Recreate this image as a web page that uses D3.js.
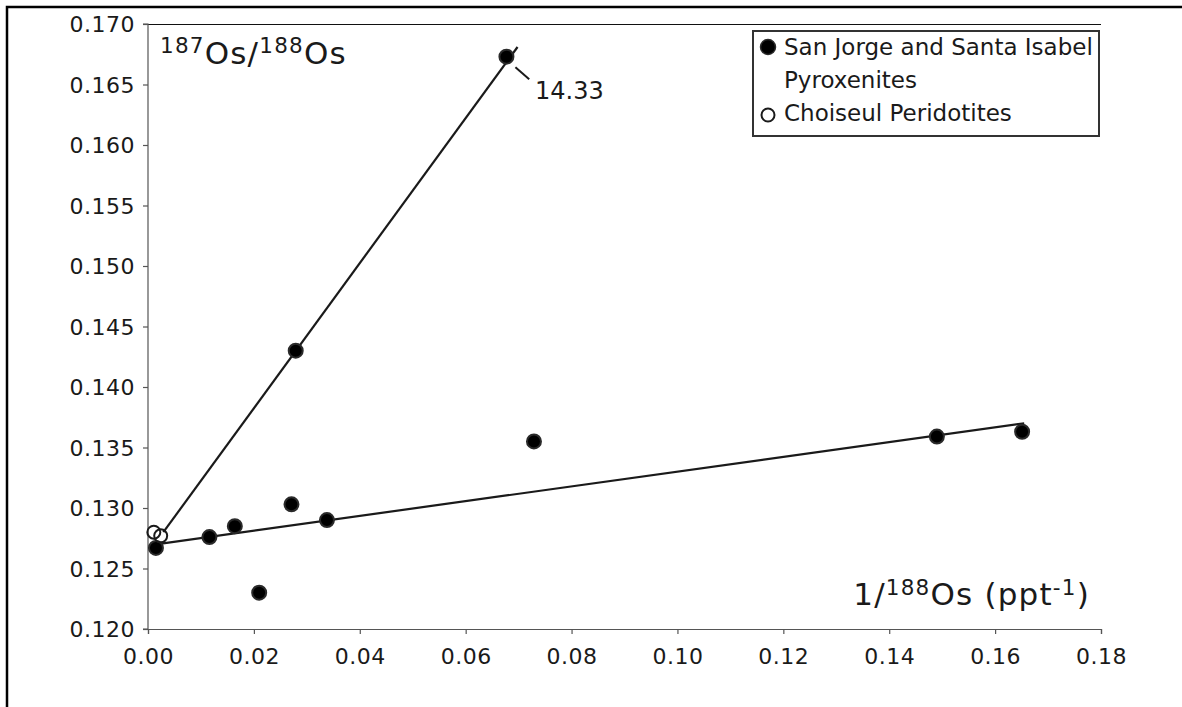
<!DOCTYPE html>
<html>
<head>
<meta charset="utf-8">
<script src="https://cdn.jsdelivr.net/npm/d3@7"></script>
<style>
  html, body { margin: 0; padding: 0; background: #fff; }
  svg { display: block; }
  text { font-family: "DejaVu Sans", sans-serif; fill: #1a1a1a; }
</style>
</head>
<body>
<script>
// ---- data ----
const pyroxX = [0.0015, 0.0116, 0.0164, 0.0210, 0.0271, 0.0279, 0.0338, 0.0677, 0.0729, 0.1490, 0.1651];
const pyroxY = [0.1267, 0.1276, 0.1285, 0.1230, 0.1303, 0.1430, 0.1290, 0.1673, 0.1355, 0.1359, 0.1363];
const periX = [0.0011, 0.0024];
const periY = [0.1280, 0.1277];
const lowLineX = [0.0015, 0.1655];
const lowLineY = [0.1270, 0.1370];
const steepLineX = [0.0029, 0.0698];
const steepLineY = [0.1280, 0.1681];
const xTicks = [0, 0.02, 0.04, 0.06, 0.08, 0.10, 0.12, 0.14, 0.16, 0.18];
const yTicks = [0.120, 0.125, 0.130, 0.135, 0.140, 0.145, 0.150, 0.155, 0.160, 0.165, 0.170];
const legendLabels = [["San Jorge and Santa Isabel", "Pyroxenites"], ["Choiseul Peridotites"]];
const ageLabel = "14.33";
const ageLeader = [[0.0694, 0.16642], [0.0720, 0.16543]];
const ageLabelPos = [0.0731, 0.1638];

// ---- layout ----
const W = 1182, H = 707;
const mLeft = 148, mRight = 1101, mTop = 24, mBottom = 629;

const svg = d3.select("body").append("svg").attr("width", W).attr("height", H);

const x = d3.scaleLinear().domain([0, 0.18]).range([mLeft, mRight]);
const y = d3.scaleLinear().domain([0.120, 0.170]).range([mBottom, mTop]);

// outer border (top and left only)
svg.append("path")
  .attr("d", `M7,${H} L7,7 L${W},7`)
  .attr("fill", "none").attr("stroke", "#000").attr("stroke-width", 2.5);

// top frame line of the plot
svg.append("line")
  .attr("x1", mLeft).attr("x2", mRight).attr("y1", mTop + 0.5).attr("y2", mTop + 0.5)
  .attr("stroke", "#111").attr("stroke-width", 1);

// axes
const yAxis = d3.axisLeft(y).tickValues(yTicks).tickFormat(d3.format(".3f")).tickSize(5).tickPadding(8);
const xAxis = d3.axisBottom(x).tickValues(xTicks).tickFormat(d3.format(".2f")).tickSize(5).tickPadding(14);

const gy = svg.append("g").attr("transform", `translate(${mLeft},0)`).call(yAxis);
const gx = svg.append("g").attr("transform", `translate(0,${mBottom})`).call(xAxis);

[gy, gx].forEach(g => {
  g.selectAll(".domain").attr("stroke", "#555").attr("stroke-width", 1.2);
  g.selectAll(".tick line").attr("stroke", "#555").attr("stroke-width", 1.2);
  g.selectAll(".tick text")
    .attr("font-family", "DejaVu Sans")
    .attr("font-size", 22)
    .attr("letter-spacing", 0.5)
    .attr("fill", "#1a1a1a");
});
gy.select(".domain").attr("d", `M-5,${y(0.170)}H0V${y(0.120)}H-5`);
gx.selectAll(".tick text").attr("dy", "0.71em");
gy.selectAll(".tick text").attr("dy", "0.36em");

// regression lines
const lineGen = d3.line().x(d => x(d[0])).y(d => y(d[1]));
svg.append("path")
  .attr("d", lineGen(d3.zip(lowLineX, lowLineY)))
  .attr("fill", "none").attr("stroke", "#1a1a1a").attr("stroke-width", 2.2);
svg.append("path")
  .attr("d", lineGen(d3.zip(steepLineX, steepLineY)))
  .attr("fill", "none").attr("stroke", "#1a1a1a").attr("stroke-width", 2.2);

// points
svg.append("g").selectAll("circle").data(d3.zip(pyroxX, pyroxY)).join("circle")
  .attr("cx", d => x(d[0])).attr("cy", d => y(d[1])).attr("r", 7)
  .attr("fill", "#000").attr("stroke", "#2a2a2a").attr("stroke-width", 2);

svg.append("g").selectAll("circle").data(d3.zip(periX, periY)).join("circle")
  .attr("cx", d => x(d[0])).attr("cy", d => y(d[1])).attr("r", 6.5)
  .attr("fill", "none").attr("stroke", "#1a1a1a").attr("stroke-width", 2);

// age annotation
svg.append("path")
  .attr("d", lineGen(ageLeader))
  .attr("fill", "none").attr("stroke", "#1a1a1a").attr("stroke-width", 2);
svg.append("text")
  .attr("x", x(ageLabelPos[0])).attr("y", y(ageLabelPos[1]))
  .attr("font-size", 24)
  .text(ageLabel);

// y-axis title: 187Os/188Os
const yt = svg.append("text").attr("x", 160).attr("y", 64).attr("letter-spacing", 1.2);
yt.append("tspan").attr("font-size", 21.5).attr("dy", -11).text("187");
yt.append("tspan").attr("font-size", 31).attr("dy", 11).text("Os/");
yt.append("tspan").attr("font-size", 21.5).attr("dy", -11).text("188");
yt.append("tspan").attr("font-size", 31).attr("dy", 11).text("Os");

// x-axis title: 1/188Os (ppt-1)
const xt = svg.append("text").attr("x", 1090).attr("y", 605).attr("text-anchor", "end").attr("letter-spacing", 1.2);
xt.append("tspan").attr("font-size", 31).text("1/");
xt.append("tspan").attr("font-size", 21.5).attr("dy", -10).text("188");
xt.append("tspan").attr("font-size", 31).attr("dy", 10).text("Os (ppt");
xt.append("tspan").attr("font-size", 21.5).attr("dy", -10).text("-1");
xt.append("tspan").attr("font-size", 31).attr("dy", 10).text(")");

// legend
const lg = svg.append("g");
lg.append("rect").attr("x", 753).attr("y", 31).attr("width", 346).attr("height", 105)
  .attr("fill", "#fff").attr("stroke", "#333").attr("stroke-width", 2);
lg.append("circle").attr("cx", 768).attr("cy", 47).attr("r", 7.5)
  .attr("fill", "#000").attr("stroke", "#2a2a2a").attr("stroke-width", 1.5);
lg.append("circle").attr("cx", 768).attr("cy", 115).attr("r", 6.5)
  .attr("fill", "none").attr("stroke", "#1a1a1a").attr("stroke-width", 2);
const lt1 = lg.append("text").attr("font-size", 23);
lt1.append("tspan").attr("x", 784).attr("y", 55).text(legendLabels[0][0]);
lt1.append("tspan").attr("x", 784).attr("y", 88).text(legendLabels[0][1]);
lg.append("text").attr("font-size", 23).attr("x", 784).attr("y", 121).text(legendLabels[1][0]);
</script>
</body>
</html>
